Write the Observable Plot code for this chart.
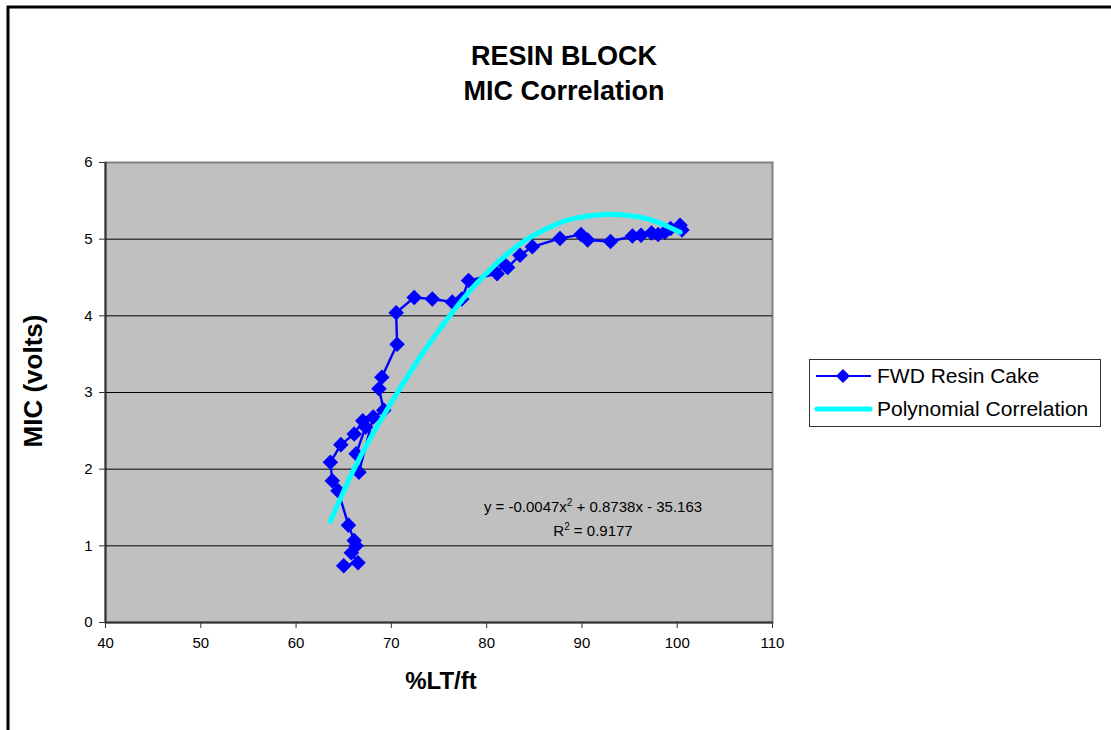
<!DOCTYPE html>
<html>
<head>
<meta charset="utf-8">
<script src="https://cdn.jsdelivr.net/npm/d3@7"></script>
<script src="https://cdn.jsdelivr.net/npm/@observablehq/plot@0.6"></script>
<style>
  html, body { margin: 0; padding: 0; background: #fff; }
  #chart { width: 1111px; height: 730px; overflow: hidden; }
</style>
</head>
<body>
<div id="chart"></div>
<script>
// ---- data ----
const fwdX = [65.0, 66.5, 65.8, 66.3, 66.1, 65.5, 64.4, 63.8, 63.6, 64.7, 66.1, 67.0, 67.3, 66.3, 66.6,
              68.1, 69.2, 68.7, 69.0, 70.6, 70.5, 72.4, 74.3, 76.4, 77.4, 78.1, 81.1, 81.8, 82.2, 83.5,
              84.8, 87.7, 89.9, 90.6, 93.0, 95.3, 96.2, 97.3, 98.0, 98.7, 99.3, 100.3, 100.5];
const fwdY = [0.74, 0.78, 0.91, 1.00, 1.07, 1.27, 1.72, 1.85, 2.09, 2.32, 2.46, 2.63, 2.55, 2.20, 1.96,
              2.68, 2.77, 3.05, 3.20, 3.63, 4.04, 4.24, 4.22, 4.18, 4.22, 4.46, 4.55, 4.68, 4.63, 4.79,
              4.90, 5.01, 5.06, 4.99, 4.97, 5.04, 5.05, 5.08, 5.06, 5.09, 5.14, 5.18, 5.12];
// polynomial trendline as drawn in the reference
const polyX = [63.6, 66, 68, 70, 72, 74, 76, 78, 80, 82, 84, 86, 88, 90, 92, 94, 96, 98, 100.3];
const polyY = [1.32, 1.98, 2.45, 2.87, 3.27, 3.64, 3.98, 4.29, 4.56, 4.79, 4.98, 5.12, 5.23, 5.29, 5.32, 5.32, 5.29, 5.22, 5.09];
const xTicks = [40, 50, 60, 70, 80, 90, 100, 110];
const yTicks = [0, 1, 2, 3, 4, 5, 6];
const titleLines = ["RESIN BLOCK", "MIC Correlation"];
const xLabel = "%LT/ft";
const yLabel = "MIC (volts)";
const seriesNames = ["FWD Resin Cake", "Polynomial Correlation"];
const eqText = "y = -0.0047x";
const eqText2 = " + 0.8738x - 35.163";
const r2Text = "R";
const r2Value = " = 0.9177";

// ---- build tables ----
const fwd = fwdX.map((x, i) => ({x, y: fwdY[i]}));
const poly = polyX.map((x, i) => ({x, y: polyY[i]}));

const W = 1111, H = 730;
const mL = 105, mR = W - 772, mT = 162, mB = H - 622;
const FF = "'Liberation Sans', Arial, sans-serif";

const svg = Plot.plot({
  width: W, height: H,
  marginLeft: mL, marginRight: mR, marginTop: mT, marginBottom: mB,
  style: {fontFamily: FF, fontSize: "15px", background: "#fff", color: "#000"},
  x: {domain: [40, 110]},
  y: {domain: [0, 6]},
  marks: [
    Plot.frame({fill: "#C0C0C0", stroke: "#808080", strokeWidth: 2}),
    Plot.gridY(yTicks.slice(1, -1), {stroke: "#000", strokeOpacity: 1, strokeWidth: 1}),
    Plot.ruleX([40], {stroke: "#333", strokeWidth: 2}),
    Plot.ruleY([0], {stroke: "#333", strokeWidth: 2}),
    Plot.axisX(xTicks, {tickSize: 6, tickPadding: 9, fontSize: 15, label: null, stroke: "#333", tickFormat: d => String(d)}),
    Plot.axisY(yTicks, {tickSize: 6, tickPadding: 7, fontSize: 15, label: null, stroke: "#333", tickFormat: d => String(d)}),
    Plot.line(fwd, {x: "x", y: "y", stroke: "#0000FF", strokeWidth: 2.4}),
    Plot.dot(fwd, {x: "x", y: "y", symbol: "diamond2", r: 7, fill: "#0000FF", stroke: "none"}),
    Plot.line(poly, {x: "x", y: "y", stroke: "#00FFFF", strokeWidth: 5, curve: "natural"})
  ]
});

document.getElementById("chart").appendChild(svg);
const g = d3.select(svg);
// make sure tick labels use the reference size
g.selectAll("g[aria-label='x-axis tick label'], g[aria-label='y-axis tick label']").attr("font-size", 15);
g.selectAll("g[aria-label='x-axis tick label'] text, g[aria-label='y-axis tick label'] text").attr("font-size", 15);

// outer chart border (extends past the page edges)
g.append("path").attr("d", `M8,${H + 5} V7 H${W + 5}`).attr("fill", "none").attr("stroke", "#000").attr("stroke-width", 3);

// title
g.append("text").attr("x", 564).attr("y", 65).attr("text-anchor", "middle")
  .attr("font-family", FF).attr("font-size", 27).attr("font-weight", "bold").text(titleLines[0]);
g.append("text").attr("x", 564).attr("y", 100).attr("text-anchor", "middle")
  .attr("font-family", FF).attr("font-size", 27).attr("font-weight", "bold").text(titleLines[1]);

// axis titles
g.append("text").attr("x", 441).attr("y", 689).attr("text-anchor", "middle")
  .attr("font-family", FF).attr("font-size", 24).attr("font-weight", "bold").text(xLabel);
g.append("text").attr("transform", "translate(42,381) rotate(-90)").attr("text-anchor", "middle")
  .attr("font-family", FF).attr("font-size", 26).attr("font-weight", "bold").text(yLabel);

// equation text
const eq = g.append("text").attr("x", 593).attr("y", 512).attr("text-anchor", "middle")
  .attr("font-family", FF).attr("font-size", 15).attr("fill", "#000");
eq.append("tspan").text(eqText);
eq.append("tspan").attr("dy", -6).attr("font-size", 10).text("2");
eq.append("tspan").attr("dy", 6).text(eqText2);
const r2 = g.append("text").attr("x", 593).attr("y", 536).attr("text-anchor", "middle")
  .attr("font-family", FF).attr("font-size", 15).attr("fill", "#000");
r2.append("tspan").text(r2Text);
r2.append("tspan").attr("dy", -6).attr("font-size", 10).text("2");
r2.append("tspan").attr("dy", 6).text(r2Value);

// legend
const lg = g.append("g").attr("text-anchor", "start");
lg.append("rect").attr("x", 809.5).attr("y", 359.5).attr("width", 291).attr("height", 67)
  .attr("fill", "#fff").attr("stroke", "#333").attr("stroke-width", 1);
lg.append("line").attr("x1", 816).attr("x2", 871).attr("y1", 376).attr("y2", 376)
  .attr("stroke", "#0000FF").attr("stroke-width", 2);
lg.append("path").attr("d", "M843,369 L850,376 L843,383 L836,376 Z").attr("fill", "#0000FF");
lg.append("line").attr("x1", 817).attr("x2", 870).attr("y1", 409).attr("y2", 409)
  .attr("stroke", "#00FFFF").attr("stroke-width", 5).attr("stroke-linecap", "round");
lg.append("text").attr("x", 877).attr("y", 383).attr("text-anchor", "start")
  .attr("font-family", FF).attr("font-size", 21).text(seriesNames[0]);
lg.append("text").attr("x", 877).attr("y", 416).attr("text-anchor", "start")
  .attr("font-family", FF).attr("font-size", 21).text(seriesNames[1]);
</script>
</body>
</html>
